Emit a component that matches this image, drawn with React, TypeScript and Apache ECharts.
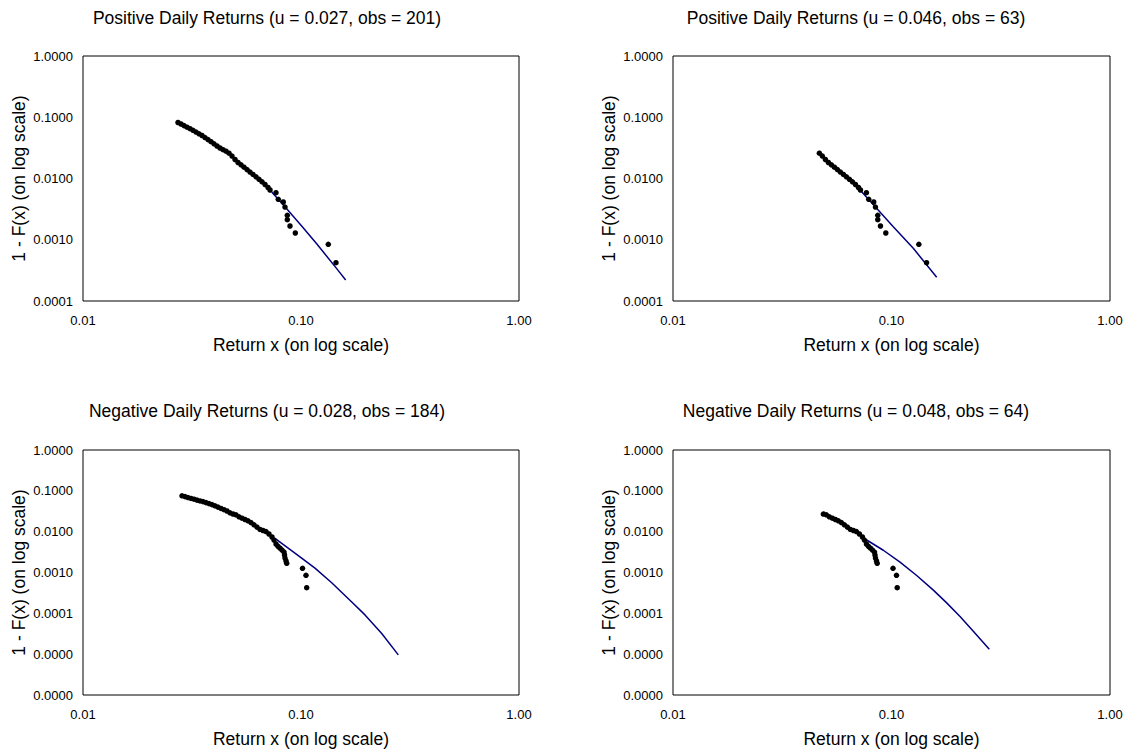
import React, { useEffect, useRef } from "react";
import * as echarts from "echarts";

// ---------- Data ----------
// Positive daily returns: empirical tail (x = return, y = 1 - F(x))
const posX = [
  0.02728, 0.02816, 0.02907, 0.03, 0.03097, 0.03196, 0.03299, 0.03406, 0.03515, 0.03628,
  0.03745, 0.03866, 0.0399, 0.04119, 0.04251, 0.04388, 0.0453, 0.04676, 0.04826, 0.04982,
  0.05142, 0.05308, 0.05479, 0.05655, 0.05837, 0.06025, 0.06219, 0.0642, 0.06626, 0.0684,
  0.0706, 0.07211, 0.07678, 0.07867, 0.08295, 0.08445, 0.08653, 0.08653, 0.08902, 0.09417,
  0.1334, 0.1447,
];
const posY = [
  0.08208, 0.07757, 0.07304, 0.06877, 0.065, 0.06119, 0.05741, 0.05367, 0.05035, 0.04655,
  0.04315, 0.03988, 0.03685, 0.03393, 0.03148, 0.02953, 0.0279, 0.02588, 0.02329, 0.02043,
  0.01825, 0.01674, 0.01529, 0.01397, 0.01276, 0.01166, 0.01066, 0.0097, 0.00883, 0.00798,
  0.00713, 0.00649, 0.005865, 0.004574, 0.004133, 0.003424, 0.002507, 0.002125, 0.001677, 0.001289,
  0.000843, 0.000422,
];
// Negative daily returns: empirical tail
const negX = [
  0.02845, 0.02936, 0.03031, 0.03129, 0.03229, 0.03333, 0.03441, 0.03551, 0.03666, 0.03784,
  0.03906, 0.04031, 0.04161, 0.04295, 0.04433, 0.04576, 0.04724, 0.04876, 0.05033, 0.05195,
  0.05362, 0.05535, 0.05713, 0.05897, 0.06087, 0.06283, 0.06485, 0.06694, 0.0691, 0.07132,
  0.07362, 0.07519, 0.0768, 0.07844, 0.08012, 0.08183, 0.08358, 0.08402, 0.08447, 0.08537,
  0.086, 0.1016, 0.1054, 0.1062,
];
const negY = [
  0.07556, 0.07222, 0.06862, 0.06524, 0.06237, 0.05929, 0.05667, 0.05447, 0.05148, 0.04867,
  0.046, 0.04298, 0.03995, 0.03712, 0.0345, 0.03206, 0.02896, 0.02707, 0.02588, 0.02312,
  0.02137, 0.01986, 0.01845, 0.01676, 0.01472, 0.01293, 0.01136, 0.01068, 0.01009, 0.008766,
  0.007401, 0.006248, 0.004987, 0.004379, 0.003934, 0.003554, 0.003175, 0.002682, 0.002264, 0.001912,
  0.00168, 0.001266, 0.000854, 0.000424,
];

// Fitted tail curves (blue lines)
const fitPosLowX = [0.07338, 0.08597, 0.1007, 0.118, 0.1458, 0.1603];
const fitPosLowY = [0.00602, 0.00322, 0.00168, 0.000859, 0.000338, 0.00022];
const fitPosHighX = [0.07302, 0.1019, 0.1258, 0.161];
const fitPosHighY = [0.006088, 0.001633, 0.000725, 0.000244];
const fitNegLowX = [0.07598, 0.09718, 0.1159, 0.1383, 0.1709, 0.1966, 0.2346, 0.2795];
const fitNegLowY = [0.006878, 0.0026, 0.00128, 0.00056, 0.00019, 0.0000915, 0.000032, 0.0000096];
const fitNegHighX = [0.077, 0.09173, 0.1094, 0.1304, 0.1554, 0.1789, 0.2059, 0.2368, 0.2803];
const fitNegHighY = [0.006248, 0.003506, 0.001796, 0.000844, 0.00037, 0.0001805, 0.0000833, 0.0000365, 0.0000132];

// Thresholds of each panel
const thresholds = [0.027, 0.046, 0.028, 0.048];
const titles = [
  "Positive Daily Returns (u = 0.027, obs = 201)",
  "Positive Daily Returns (u = 0.046, obs = 63)",
  "Negative Daily Returns (u = 0.028, obs = 184)",
  "Negative Daily Returns (u = 0.048, obs = 64)",
];
const xAxisName = "Return x (on log scale)";
const yAxisName = "1 - F(x) (on log scale)";
const yMinTop = 0.0001;
const yMinBottom = 0.000001;

const FONT = "'Liberation Sans', Arial, Helvetica, sans-serif";

function pairs(xs: number[], ys: number[], minX: number) {
  const out: number[][] = [];
  xs.forEach((x, i) => {
    if (x >= minX) out.push([x, ys[i]]);
  });
  return out;
}

export default function App() {
  const ref = useRef<HTMLDivElement>(null);

  useEffect(() => {
    if (!ref.current) return;
    const chart = echarts.init(ref.current, undefined, { renderer: "svg" });

    const grids = [
      { left: 83, top: 56, width: 436, height: 245 },
      { left: 673, top: 56, width: 437, height: 245 },
      { left: 83, top: 450, width: 436, height: 245 },
      { left: 673, top: 450, width: 437, height: 245 },
    ].map((g) => ({
      ...g,
      show: true,
      borderColor: "#000",
      borderWidth: 1,
      backgroundColor: "transparent",
      containLabel: false,
    }));

    const xAxes = [0, 1, 2, 3].map((i) => ({
      type: "log",
      logBase: 10,
      gridIndex: i,
      min: 0.01,
      max: 1,
      axisLine: { show: false },
      axisTick: { show: false },
      splitLine: { show: false },
      axisLabel: {
        formatter: (v: number) => v.toFixed(2),
        margin: 13,
        color: "#000",
        fontSize: 13,
        fontFamily: FONT,
      },
      name: xAxisName,
      nameLocation: "middle",
      nameGap: 35,
      nameTextStyle: { fontSize: 17.5, color: "#000", fontFamily: FONT },
    }));

    const yAxes = [0, 1, 2, 3].map((i) => ({
      type: "log",
      logBase: 10,
      gridIndex: i,
      min: i < 2 ? yMinTop : yMinBottom,
      max: 1,
      axisLine: { show: false },
      axisTick: { show: false },
      splitLine: { show: false },
      axisLabel: {
        formatter: (v: number) => v.toFixed(4),
        margin: 10,
        color: "#000",
        fontSize: 13,
        fontFamily: FONT,
      },
      name: yAxisName,
      nameLocation: "middle",
      nameRotate: 90,
      nameGap: 55,
      nameTextStyle: { fontSize: 17.5, color: "#000", fontFamily: FONT },
    }));

    const pointSets = [
      pairs(posX, posY, thresholds[0]),
      pairs(posX, posY, thresholds[1]),
      pairs(negX, negY, thresholds[2]),
      pairs(negX, negY, thresholds[3]),
    ];
    const fitSets = [
      pairs(fitPosLowX, fitPosLowY, 0),
      pairs(fitPosHighX, fitPosHighY, 0),
      pairs(fitNegLowX, fitNegLowY, 0),
      pairs(fitNegHighX, fitNegHighY, 0),
    ];

    const series: any[] = [];
    [0, 1, 2, 3].forEach((i) => {
      series.push({
        type: "line",
        xAxisIndex: i,
        yAxisIndex: i,
        data: fitSets[i],
        showSymbol: false,
        smooth: false,
        lineStyle: { color: "#000080", width: 1.5 },
        z: 2,
        silent: true,
      });
      series.push({
        type: "scatter",
        xAxisIndex: i,
        yAxisIndex: i,
        data: pointSets[i],
        symbol: "circle",
        symbolSize: 5.5,
        itemStyle: { color: "#000", opacity: 1 },
        z: 3,
        silent: true,
      });
    });

    const titleCenters = [
      [267, 9],
      [856, 9],
      [267, 402],
      [856, 402],
    ];
    const graphic = titles.map((t, i) => ({
      type: "text",
      x: titleCenters[i][0],
      y: titleCenters[i][1],
      silent: true,
      style: {
        text: t,
        fontSize: 17.5,
        fontFamily: FONT,
        fill: "#000",
        align: "center",
        verticalAlign: "top",
      },
    }));

    chart.setOption({
      animation: false,
      backgroundColor: "#fff",
      grid: grids,
      xAxis: xAxes,
      yAxis: yAxes,
      series,
      graphic,
    });

    return () => chart.dispose();
  }, []);

  return (
    <div
      ref={ref}
      style={{
        position: "fixed",
        left: 0,
        top: 0,
        width: 1126,
        height: 753,
        background: "#fff",
      }}
    />
  );
}
